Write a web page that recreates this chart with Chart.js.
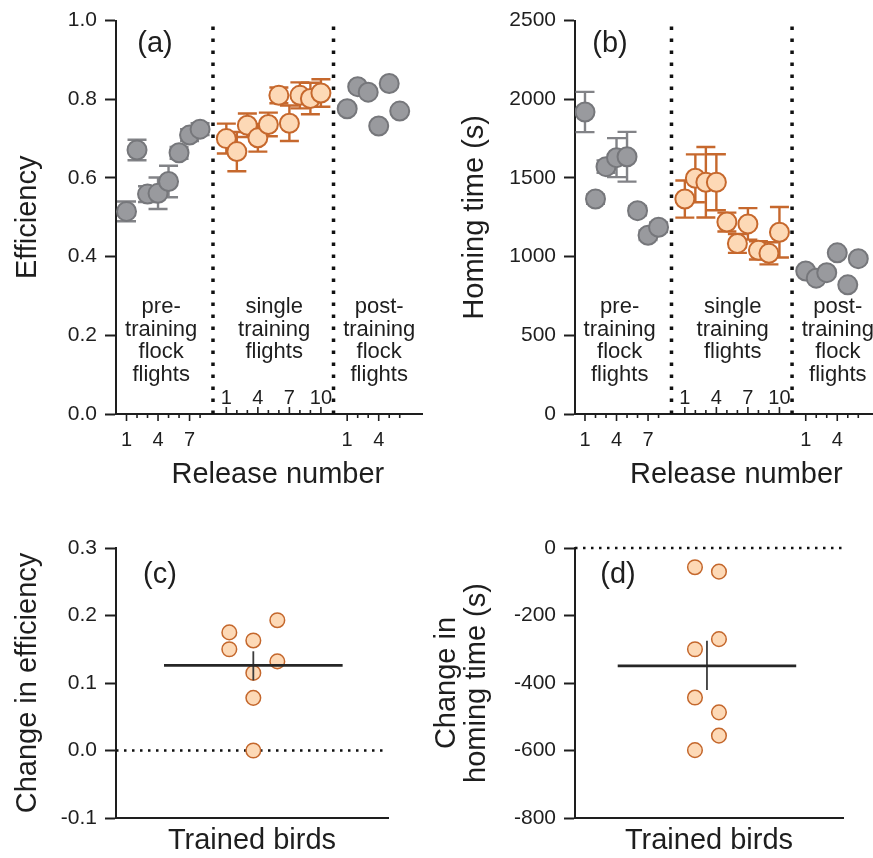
<!DOCTYPE html>
<html>
<head>
<meta charset="utf-8">
<script src="https://cdn.jsdelivr.net/npm/chart.js@4.4.0/dist/chart.umd.min.js"></script>
<style>
  html, body { margin: 0; padding: 0; background: #fff; }
  body { width: 873px; height: 858px; position: relative; overflow: hidden; }
  canvas { position: absolute; }
</style>
</head>
<body>
<canvas id="chartA" width="436" height="492" style="left:0;top:0"></canvas>
<canvas id="chartB" width="433" height="492" style="left:440px;top:0"></canvas>
<canvas id="chartC" width="400" height="358" style="left:0;top:500px"></canvas>
<canvas id="chartD" width="453" height="358" style="left:420px;top:500px"></canvas>
<script>
// release numbers in each phase
const preRelease = [1, 2, 3, 4, 5, 6, 7, 8]
const singleRelease = [1, 2, 3, 4, 5, 6, 7, 8, 9, 10]
const postRelease = [1, 2, 3, 4, 5, 6]

// (a) efficiency, mean and error per release
const preEfficiency = [0.515, 0.671, 0.559, 0.561, 0.591, 0.664, 0.709, 0.724]
const preEfficiencyErr = [0.025, 0.026, 0.02, 0.04, 0.04, 0.015, 0.015, 0.015]
const singleEfficiency = [0.700, 0.667, 0.734, 0.702, 0.736, 0.810, 0.739, 0.810, 0.802, 0.816]
const singleEfficiencyErr = [0.038, 0.05, 0.03, 0.035, 0.03, 0.02, 0.045, 0.033, 0.04, 0.035]
const postEfficiency = [0.776, 0.832, 0.818, 0.732, 0.840, 0.770]

// (b) homing time (s)
const preHoming = [1919, 1366, 1572, 1629, 1635, 1292, 1136, 1187]
const preHomingErr = [128, 30, 40, 124, 158, 30, 30, 30]
const singleHoming = [1366, 1498, 1473, 1473, 1220, 1084, 1208, 1040, 1021, 1155]
const singleHomingErr = [118, 152, 224, 178, 60, 60, 100, 58, 70, 160]
const postHoming = [909, 863, 898, 1024, 821, 987]

const preTickLabels = [1, 4, 7]
const singleTickLabels = [1, 4, 7, 10]
const postTickLabels = [1, 4]
const phaseNames = [
    ['pre-', 'training', 'flock', 'flights'],
    ['single', 'training', 'flights'],
    ['post-', 'training', 'flock', 'flights']
]

// (c) / (d) change per trained bird
const efficiencyChange = [0.175, 0.150, 0.163, 0.115, 0.078, 0.000, 0.193, 0.132]
const efficiencyColumn = [-1, -1, 0, 0, 0, 0, 1, 1]
const efficiencyMean = 0.126
const efficiencySem = [0.104, 0.147]

const homingChange = [-57, -300, -443, -599, -70, -270, -487, -556]
const homingColumn = [-0.5, -0.5, -0.5, -0.5, 0.5, 0.5, 0.5, 0.5]
const homingMean = -349
const homingSem = [-421, -275]

// where the phases sit on the shared release axis
const SINGLE_SHIFT = 9.5
const POST_SHIFT = 21
const separators = [9.23, 20.7]
const phaseCenters = [4.3, 15.05, 25.05]

const FONT = '"Liberation Sans", Arial, Helvetica, sans-serif'
const INK = '#1e1e1e'
Chart.defaults.font.family = FONT
Chart.defaults.color = INK

const gray = { backgroundColor: '#999a9e', borderColor: '#76777b', borderWidth: 2, pointRadius: 9.5, errorColor: '#828387' }
const orange = { backgroundColor: '#fdd9b6', borderColor: '#c6682d', borderWidth: 2, pointRadius: 9.5, errorColor: '#c6682d' }

const errorBars = {
    id: 'errorBars',
    beforeDatasetDraw(chart, args) {
        const ds = chart.data.datasets[args.index]
        if (!ds.errors) return
        const { ctx } = chart
        const y = chart.scales.y
        ctx.save()
        ctx.strokeStyle = ds.errorColor
        ctx.lineWidth = 2.4
        args.meta.data.forEach((pt, i) => {
            const v = ds.data[i].y, e = ds.errors[i]
            const top = y.getPixelForValue(v + e), bot = y.getPixelForValue(v - e)
            ctx.beginPath()
            ctx.moveTo(pt.x, top); ctx.lineTo(pt.x, bot)
            ctx.moveTo(pt.x - 9.5, top); ctx.lineTo(pt.x + 9.5, top)
            ctx.moveTo(pt.x - 9.5, bot); ctx.lineTo(pt.x + 9.5, bot)
            ctx.stroke()
        })
        ctx.restore()
    }
}

const releaseAxis = {
    id: 'releaseAxis',
    afterDraw(chart) {
        const { ctx, chartArea } = chart
        const x = chart.scales.x, y = chart.scales.y
        const base = chartArea.bottom
        ctx.save()
        ctx.strokeStyle = INK
        ctx.fillStyle = INK
        ctx.lineWidth = 1.6
        ctx.textAlign = 'center'
        ctx.textBaseline = 'middle'
        ctx.font = '20px ' + FONT
        // pre and post ticks hang below the axis
        const outside = [[preRelease, preTickLabels, 0], [postRelease, postTickLabels, POST_SHIFT]]
        outside.forEach(([releases, labels, shift]) => {
            releases.forEach(r => {
                const px = x.getPixelForValue(r + shift)
                const major = labels.includes(r)
                ctx.beginPath(); ctx.moveTo(px, base); ctx.lineTo(px, base + (major ? 7 : 4)); ctx.stroke()
                if (major) ctx.fillText(String(r), px, base + 26)
            })
        })
        // single flights: ticks point up into the plot
        singleRelease.forEach(r => {
            const px = x.getPixelForValue(r + SINGLE_SHIFT)
            const major = singleTickLabels.includes(r)
            ctx.beginPath(); ctx.moveTo(px, base); ctx.lineTo(px, base - (major ? 7 : 4)); ctx.stroke()
            if (major) ctx.fillText(String(r), px, base - 16)
        })
        ctx.font = '22px ' + FONT
        const py = y.getPixelForValue(y.max * 0.271)
        phaseNames.forEach((lines, k) => {
            const px = x.getPixelForValue(phaseCenters[k])
            lines.forEach((t, j) => ctx.fillText(t, px, py + j * 22.5))
        })
        ctx.font = '29px ' + FONT
        ctx.fillText('Release number', x.getPixelForValue(15.4), chart.height - 17)
        ctx.restore()
    }
}

const panelTag = {
    id: 'panelTag',
    afterDraw(chart, args, opts) {
        const { ctx, chartArea } = chart
        ctx.save()
        ctx.fillStyle = INK
        ctx.font = '29px ' + FONT
        ctx.textAlign = 'center'
        ctx.textBaseline = 'middle'
        ctx.fillText(opts.text, chartArea.left + opts.dx, chartArea.top + opts.dy)
        ctx.restore()
    }
}

const pts = (xs, ys, shift) => ys.map((v, i) => ({ x: xs[i] + shift, y: v }))

function releaseChart(id, cfg) {
    const datasets = [
        ...separators.map(s => ({
            data: [{ x: s, y: 0 }, { x: s, y: cfg.yMax }],
            showLine: true, borderColor: '#111', borderWidth: 3.5, borderDash: [3.5, 8.5],
            pointRadius: 0, clip: false
        })),
        { data: pts(preRelease, cfg.pre, 0), errors: cfg.preErr, ...gray },
        { data: pts(singleRelease, cfg.single, SINGLE_SHIFT), errors: cfg.singleErr, ...orange },
        { data: pts(postRelease, cfg.post, POST_SHIFT), ...gray }
    ]
    new Chart(document.getElementById(id), {
        type: 'scatter',
        data: { datasets },
        options: {
            responsive: false,
            animation: false,
            layout: { autoPadding: false, padding: { top: 18, right: cfg.padRight, bottom: 0, left: 0 } },
            plugins: { legend: { display: false }, tooltip: { enabled: false }, panelTag: cfg.tag },
            scales: {
                x: {
                    type: 'linear', min: cfg.xMin, max: cfg.xMax,
                    ticks: { display: false }, grid: { display: false },
                    border: { color: INK, width: 2 },
                    afterFit(s) { s.height = 78 }
                },
                y: {
                    min: 0, max: cfg.yMax,
                    ticks: { stepSize: cfg.step, font: { size: 21 }, padding: 8, color: INK, callback: cfg.fmt },
                    grid: { drawOnChartArea: false, tickLength: 11, tickWidth: 2, tickColor: INK },
                    border: { color: INK, width: 2 },
                    title: { display: true, text: cfg.title, font: { size: 29 }, color: INK, padding: { top: cfg.titlePad, bottom: 0 } },
                    afterFit(s) { s.width = cfg.axisWidth }
                }
            }
        },
        plugins: [errorBars, releaseAxis, panelTag]
    })
}

function changeChart(id, cfg) {
    const datasets = [
        { data: [{ x: -3.72, y: cfg.mean }, { x: 3.72, y: cfg.mean }], showLine: true, borderColor: '#262626', borderWidth: 2.8, pointRadius: 0 },
        { data: [{ x: 0, y: cfg.sem[0] }, { x: 0, y: cfg.sem[1] }], showLine: true, borderColor: '#3c3c3c', borderWidth: 1.8, pointRadius: 0 },
        { data: pts(cfg.cols, cfg.values, 0), backgroundColor: '#fdd9b6', borderColor: '#c4672c', borderWidth: 1.5, pointRadius: 7.3 },
        { data: [{ x: cfg.xMin, y: 0 }, { x: cfg.xMax, y: 0 }], showLine: true, borderColor: '#111', borderWidth: 2.5, borderDash: [2.5, 5.5], pointRadius: 0, clip: false }
    ]
    new Chart(document.getElementById(id), {
        type: 'scatter',
        data: { datasets },
        options: {
            responsive: false,
            animation: false,
            layout: { autoPadding: false, padding: { top: 48, right: cfg.padRight, bottom: 0, left: 0 } },
            plugins: { legend: { display: false }, tooltip: { enabled: false }, panelTag: cfg.tag },
            scales: {
                x: {
                    type: 'linear', min: cfg.xMin, max: cfg.xMax,
                    ticks: { display: false }, grid: { display: false },
                    border: { color: INK, width: 2 },
                    title: { display: true, text: 'Trained birds', font: { size: 29 }, color: INK, padding: { top: 0, bottom: 0 } },
                    afterFit(s) { s.height = 40 }
                },
                y: {
                    min: cfg.yMin, max: cfg.yMax,
                    ticks: { stepSize: cfg.step, font: { size: 21 }, padding: 8, color: INK, callback: cfg.fmt },
                    grid: { drawOnChartArea: false, tickLength: 11, tickWidth: 2, tickColor: INK },
                    border: { color: INK, width: 2 },
                    title: { display: true, text: cfg.title, font: { size: 29, lineHeight: 1.03 }, color: INK, padding: { top: cfg.titlePad, bottom: 0 } },
                    afterFit(s) { s.width = cfg.axisWidth }
                }
            }
        },
        plugins: [panelTag]
    })
}

releaseChart('chartA', {
    pre: preEfficiency, preErr: preEfficiencyErr, single: singleEfficiency, singleErr: singleEfficiencyErr, post: postEfficiency,
    xMin: 0, xMax: 29.12, yMax: 1, step: 0.2, fmt: v => v.toFixed(1),
    title: 'Efficiency', titlePad: 10.5, axisWidth: 116, padRight: 14,
    tag: { text: '(a)', dx: 39, dy: 23 }
})

releaseChart('chartB', {
    pre: preHoming, preErr: preHomingErr, single: singleHoming, singleErr: singleHomingErr, post: postHoming,
    xMin: 0.05, xMax: 28.4, yMax: 2500, step: 500, fmt: v => String(v),
    title: 'Homing time (s)', titlePad: 17.5, axisWidth: 135, padRight: 0,
    tag: { text: '(b)', dx: 35, dy: 23 }
})

changeChart('chartC', {
    values: efficiencyChange, cols: efficiencyColumn, mean: efficiencyMean, sem: efficiencySem,
    xMin: -5.72, xMax: 5.61, yMin: -0.1, yMax: 0.3, step: 0.1, fmt: v => v.toFixed(1),
    title: 'Change in efficiency', titlePad: 13.5, axisWidth: 116, padRight: 12,
    tag: { text: '(c)', dx: 44, dy: 27 }
})

changeChart('chartD', {
    values: homingChange, cols: homingColumn, mean: homingMean, sem: homingSem,
    xMin: -5.5, xMax: 5.67, yMin: -800, yMax: 0, step: 200, fmt: v => String(v),
    title: ['Change in', 'homing time (s)'], titlePad: 12, axisWidth: 155, padRight: 30,
    tag: { text: '(d)', dx: 43, dy: 27 }
})
</script>
</body>
</html>
